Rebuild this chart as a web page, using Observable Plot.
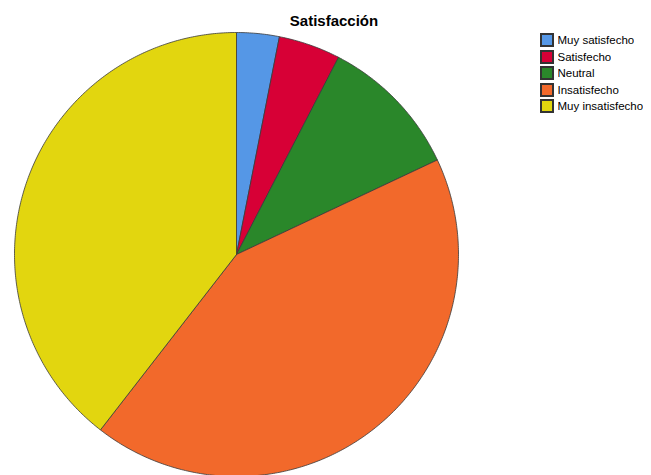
<!DOCTYPE html>
<html>
<head>
<meta charset="utf-8">
<script src="https://cdn.jsdelivr.net/npm/d3@7"></script>
<script src="https://cdn.jsdelivr.net/npm/@observablehq/plot@0.6"></script>
<style>
  html, body { margin: 0; padding: 0; background: #fff; }
  #wrap { position: relative; width: 651px; height: 475px; overflow: hidden; }
  #title { position: absolute; left: 0; width: 668px; top: 12px; text-align: center; line-height: 15px;
           font: bold 15px "Liberation Sans", Arial, sans-serif; color: #000; }
  #legend { position: absolute; left: 541px; top: 34px; }
  #legend .lg-swatch svg rect { stroke: #333 !important; stroke-width: 2 !important; }
  #legend .lg-swatch { font: 11.5px "Liberation Sans", Arial, sans-serif !important; color: #000 !important;
                       line-height: 12px !important; height: 12px !important; padding-bottom: 4.5px !important; }
  #legend .lg-swatch svg { margin-right: 4.5px !important; }
</style>
</head>
<body>
<div id="wrap">
  <div id="chart"></div>
  <div id="title">Satisfacción</div>
  <div id="legend"></div>
</div>
<script>
const categories = ["Muy satisfecho", "Satisfecho", "Neutral", "Insatisfecho", "Muy insatisfecho"];
const percentages = [3.1, 4.5, 10.4, 42.5, 39.5];
const colors = ["#5597e6", "#d70036", "#2a872a", "#f2692b", "#e2d60f"];

// Build slice outlines (angles from 12 o'clock, clockwise) from the values
const total = d3.sum(percentages);
const points = [];
let acc = 0;
categories.forEach((cat, i) => {
  const a0 = acc / total * 2 * Math.PI;
  acc += percentages[i];
  const a1 = acc / total * 2 * Math.PI;
  const n = Math.max(2, Math.ceil((a1 - a0) / 0.01));
  points.push({cat, x: 0, y: 0});
  for (let k = 0; k <= n; k++) {
    const a = a0 + (a1 - a0) * k / n;
    points.push({cat, x: Math.sin(a), y: Math.cos(a)});
  }
  points.push({cat, x: 0, y: 0});
});

const W = 651, H = 475, R = 222, CX = 236, CY = 254;
const chart = Plot.plot({
  width: W,
  height: H,
  margin: 0,
  x: {domain: [-CX / R, (W - CX) / R], axis: null},
  y: {domain: [-(H - CY) / R, CY / R], axis: null},
  color: {domain: categories, range: colors},
  marks: [
    Plot.line(points, {x: "x", y: "y", z: "cat", fill: "cat", stroke: "#3a3a3a", strokeWidth: 0.8, strokeLinejoin: "round", curve: "linear"})
  ]
});
document.getElementById("chart").appendChild(chart);

const legend = Plot.legend({
  color: {domain: categories, range: colors},
  columns: 1,
  swatchSize: 12,
  className: "lg"
});
document.getElementById("legend").appendChild(legend);
</script>
</body>
</html>
